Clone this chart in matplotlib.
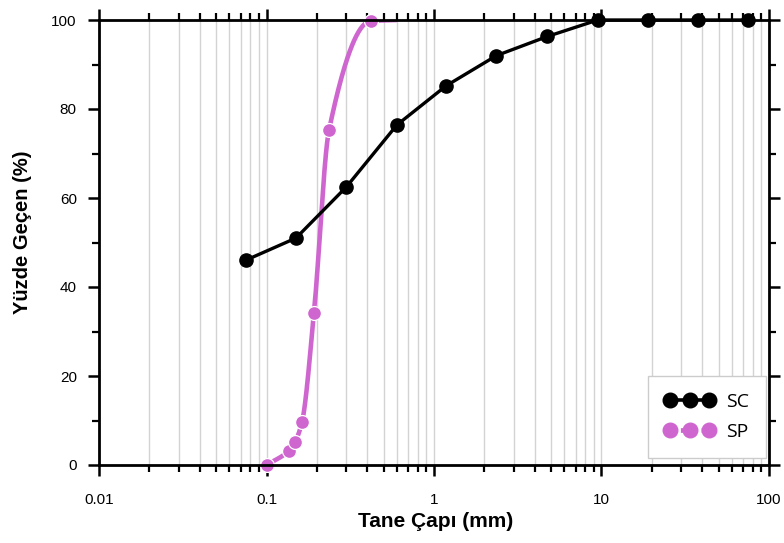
import numpy as np
import matplotlib
matplotlib.use("Agg")
import matplotlib.pyplot as plt
from matplotlib.ticker import LogLocator, FixedLocator, NullFormatter, FixedFormatter

# Data
sc_d = [0.075, 0.15, 0.30, 0.60, 1.18, 2.36, 4.75, 9.5, 19, 37.5, 75]
sc_p = [46, 51, 62.5, 76.4, 85.2, 92, 96.3, 100, 100, 100, 100]
sp_d = [0.10, 0.136, 0.148, 0.163, 0.192, 0.236, 0.42, 0.60]
sp_p = [0, 3.2, 5.2, 9.7, 34.2, 75.2, 99.8, 100]
sp_marked = 7  # number of points carrying markers (last point is line end only)

xticks = [0.01, 0.1, 1, 10, 100]
xticklabels = ["0.01", "0.1", "1", "10", "100"]
yticks = [0, 20, 40, 60, 80, 100]

SC_COLOR = "black"
SP_COLOR = "#CF66CF"


def smooth_path(x, y, n=40):
    """Monotone cubic (Fritsch-Carlson) path through points in log-x space for drawing."""
    lx = np.log10(np.asarray(x, float))
    yy = np.asarray(y, float)
    h = np.diff(lx)
    delta = np.diff(yy) / h
    m = np.zeros_like(yy)
    m[0] = delta[0]
    m[-1] = delta[-1]
    for i in range(1, len(yy) - 1):
        if delta[i - 1] * delta[i] <= 0:
            m[i] = 0
        else:
            w1 = 2 * h[i] + h[i - 1]
            w2 = h[i] + 2 * h[i - 1]
            m[i] = (w1 + w2) / (w1 / delta[i - 1] + w2 / delta[i])
    xs, ys = [], []
    for i in range(len(h)):
        t = np.linspace(0, 1, n, endpoint=(i == len(h) - 1))
        h00 = 2 * t**3 - 3 * t**2 + 1
        h10 = t**3 - 2 * t**2 + t
        h01 = -2 * t**3 + 3 * t**2
        h11 = t**3 - t**2
        xs.append(lx[i] + t * h[i])
        ys.append(h00 * yy[i] + h10 * h[i] * m[i] + h01 * yy[i + 1] + h11 * h[i] * m[i + 1])
    return 10 ** np.concatenate(xs), np.concatenate(ys)


plt.rcParams['font.family'] = ['Liberation Sans', 'DejaVu Sans']
fig = plt.figure(figsize=(7.84, 5.43), dpi=100)
ax = fig.add_axes([99 / 784, 1 - 465 / 543, (769 - 99) / 784, (465 - 20) / 543])

ax.set_xscale('log')
ax.set_xlim(0.01, 100)
ax.set_ylim(0, 100)

# grid (vertical only)
ax.xaxis.set_major_locator(FixedLocator(xticks))
ax.xaxis.set_major_formatter(FixedFormatter(xticklabels))
ax.xaxis.set_minor_locator(LogLocator(base=10, subs=np.arange(2, 10), numticks=20))
ax.xaxis.set_minor_formatter(NullFormatter())
ax.grid(True, axis='x', which='both', color='#d3d3d3', linewidth=1.0, zorder=0)
ax.set_axisbelow(True)

ax.yaxis.set_major_locator(FixedLocator(yticks))
ax.yaxis.set_minor_locator(FixedLocator([10, 30, 50, 70, 90]))

# SP series
sx, sy = smooth_path(sp_d, sp_p)
ax.plot(sx, sy, color=SP_COLOR, linewidth=3.3, zorder=3, solid_capstyle='butt')
ax.plot(sp_d[:sp_marked], sp_p[:sp_marked], linestyle='none', marker='o',
        markersize=10, color=SP_COLOR, markeredgecolor='white', markeredgewidth=0.9,
        zorder=4, clip_on=False)

# SC series
ax.plot(sc_d, sc_p, color=SC_COLOR, linewidth=2.4, marker='o', markersize=9.5,
        zorder=5, clip_on=False)

# legend handles
h_sc, = ax.plot([], [], color=SC_COLOR, linewidth=2.6, marker='o', markersize=10.5)
h_sp, = ax.plot([], [], color=SP_COLOR, linewidth=3.4, linestyle=(0, (1, 1.2)),
                marker='o', markersize=10.5)
leg = ax.legend([h_sc, h_sp], ["SC", "SP"], loc='lower right', numpoints=3,
                handlelength=2.6, handletextpad=0.55, borderpad=0.88, labelspacing=0.62,
                borderaxespad=0.0, fancybox=False, edgecolor='#cccccc', framealpha=1,
                prop={'family': 'Open Sans', 'size': 14},
                bbox_to_anchor=((766 - 99) / 670, (465 - 458) / 445))
leg.get_frame().set_linewidth(1.0)

for side in ['top', 'bottom', 'left', 'right']:
    ax.spines[side].set_linewidth(2.0)
    ax.spines[side].set_color('black')
    ax.spines[side].set_zorder(6)

ax.tick_params(axis='both', which='major', direction='out', length=8, width=1.8,
               labelsize=11, colors='black', top=True, right=True, pad=8)
ax.tick_params(axis='both', which='minor', direction='out', length=5, width=1.6,
               top=True, right=True)
ax.tick_params(axis='x', which='major', pad=12)

ax.set_xlabel("Tane Çapı (mm)", fontsize=15, fontweight='bold')
ax.set_ylabel("Yüzde Geçen (%)", fontsize=14.5, fontweight='bold')
ax.xaxis.set_label_coords((436 - 99) / 670, -(527 - 465) / 445, transform=ax.transAxes)
ax.xaxis.label.set_va('baseline')
ax.yaxis.set_label_coords(-(99 - 23) / 670, (465 - 232) / 445, transform=ax.transAxes)
ax.yaxis.label.set_va('center')

fig.savefig("out.png", dpi=100)
